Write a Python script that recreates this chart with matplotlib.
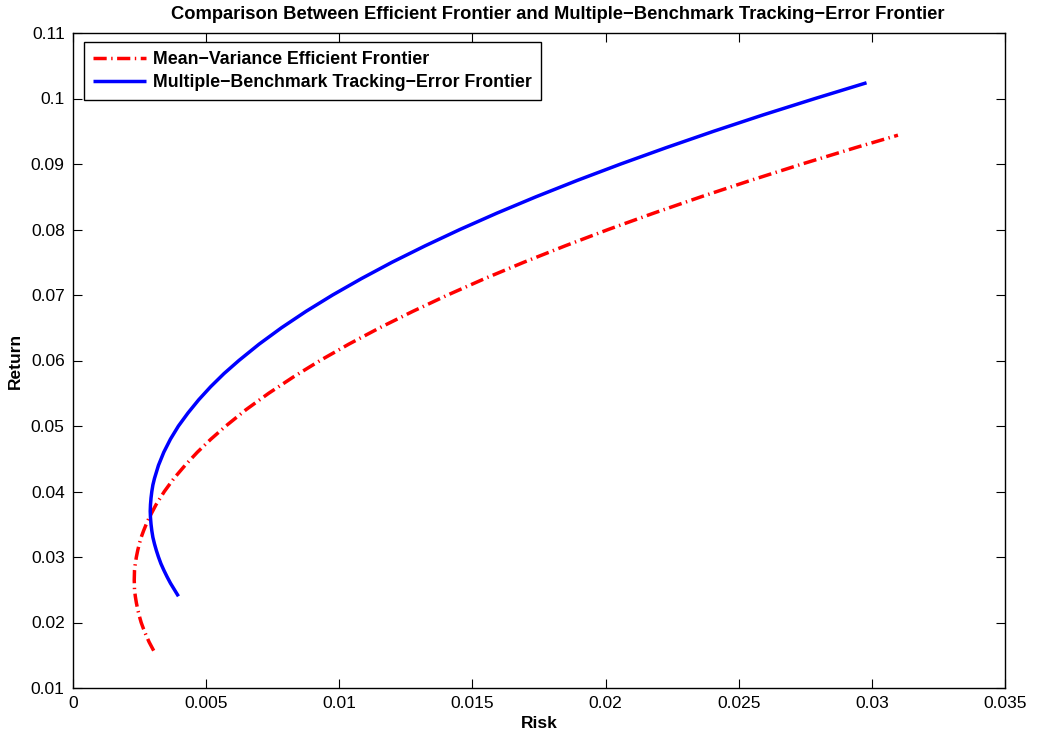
import matplotlib
matplotlib.use("Agg")
import matplotlib.pyplot as plt

plt.rcParams['font.family'] = ['Liberation Sans', 'DejaVu Sans']

# Mean-Variance Efficient Frontier
mv_return = [0.0157, 0.017, 0.018, 0.019, 0.020, 0.021, 0.022, 0.023, 0.024, 0.025,
             0.0265, 0.028, 0.029, 0.030, 0.031, 0.032, 0.033, 0.034, 0.035, 0.036,
             0.038, 0.040, 0.042, 0.044, 0.046, 0.048, 0.050, 0.0525, 0.055, 0.0575,
             0.060, 0.0625, 0.065, 0.0675, 0.070, 0.0725, 0.075, 0.0775, 0.080, 0.0825,
             0.085, 0.0875, 0.090, 0.0925, 0.0944]
mv_risk = [0.00303, 0.00286, 0.00275, 0.00265, 0.00256, 0.00249, 0.00243, 0.00238,
           0.00234, 0.00231, 0.00230, 0.00231, 0.00234, 0.00238, 0.00243, 0.00249,
           0.00256, 0.00265, 0.00275, 0.00286, 0.00312, 0.00343, 0.00379, 0.00421,
           0.00467, 0.00518, 0.00574, 0.00650, 0.00735, 0.00828, 0.00928, 0.01036,
           0.01152, 0.01276, 0.01407, 0.01546, 0.01693, 0.01848, 0.02010, 0.02181,
           0.02359, 0.02545, 0.02738, 0.02939, 0.03098]

# Multiple-Benchmark Tracking-Error Frontier
te_return = [0.024, 0.025, 0.026, 0.027, 0.028, 0.029, 0.030, 0.031, 0.032, 0.033,
             0.034, 0.035, 0.036, 0.037, 0.038, 0.039, 0.040, 0.041, 0.042, 0.044,
             0.046, 0.048, 0.050, 0.052, 0.054, 0.056, 0.058, 0.060, 0.0625, 0.065,
             0.0675, 0.070, 0.0725, 0.075, 0.0775, 0.080, 0.0825, 0.085, 0.0875, 0.090,
             0.0925, 0.095, 0.0975, 0.100, 0.1024]
te_risk = [0.00396, 0.00381, 0.00366, 0.00353, 0.00341, 0.00330, 0.00321, 0.00313,
           0.00306, 0.00300, 0.00296, 0.00293, 0.00291, 0.00290, 0.00291, 0.00293,
           0.00296, 0.00300, 0.00306, 0.00321, 0.00341, 0.00366, 0.00396, 0.00432,
           0.00472, 0.00517, 0.00567, 0.00623, 0.00699, 0.00783, 0.00875, 0.00975,
           0.01083, 0.01198, 0.01322, 0.01453, 0.01592, 0.01739, 0.01894, 0.02057,
           0.02228, 0.02406, 0.02592, 0.02787, 0.02980]

x_ticks = [0, 0.005, 0.01, 0.015, 0.02, 0.025, 0.03, 0.035]
x_tick_labels = ['0', '0.005', '0.01', '0.015', '0.02', '0.025', '0.03', '0.035']
y_ticks = [0.01, 0.02, 0.03, 0.04, 0.05, 0.06, 0.07, 0.08, 0.09, 0.1, 0.11]
y_tick_labels = ['0.01', '0.02', '0.03', '0.04', '0.05', '0.06', '0.07', '0.08', '0.09', '0.1', '0.11']

W, H = 1041, 736
fig = plt.figure(figsize=(W / 100, H / 100), dpi=100)
ax = fig.add_axes([73 / W, (H - 688) / H, (1005 - 73) / W, (688 - 33) / H])

ax.plot(mv_risk, mv_return, color='red', lw=2.5, linestyle=(0, (3.8, 1.3, 0.4, 1.3)),
        label='Mean\u2212Variance Efficient Frontier')
ax.plot(te_risk, te_return, color='blue', lw=2.5, solid_capstyle='butt',
        label='Multiple\u2212Benchmark Tracking\u2212Error Frontier')

ax.set_xlim(0, 0.035)
ax.set_ylim(0.01, 0.11)
ax.set_xticks(x_ticks)
ax.set_xticklabels(x_tick_labels)
ax.set_yticks(y_ticks)
ax.set_yticklabels(y_tick_labels)
ax.tick_params(direction='in', length=6.5, width=0.8, top=True, right=True,
               labelsize=12.5, pad=6)
for s in ax.spines.values():
    s.set_linewidth(1.0)

ax.set_xlabel('Risk', fontsize=12.5, fontweight='bold', labelpad=3)
ax.set_ylabel('Return', fontsize=12.5, fontweight='bold', labelpad=6)
ax.set_title('Comparison Between Efficient Frontier and Multiple\u2212Benchmark Tracking\u2212Error Frontier',
             fontsize=13.2, fontweight='bold', pad=10, x=(558 - 73) / 932)

leg = ax.legend(loc='upper left', bbox_to_anchor=(11 / 932, 1 - 9 / 655),
                prop={'weight': 'bold', 'size': 12.8}, fancybox=False, framealpha=1,
                edgecolor='black', handlelength=3.0, borderpad=0.5, labelspacing=0.35,
                handletextpad=0.4, borderaxespad=0)
leg.get_frame().set_linewidth(1.0)

fig.savefig('out.png', dpi=100)
